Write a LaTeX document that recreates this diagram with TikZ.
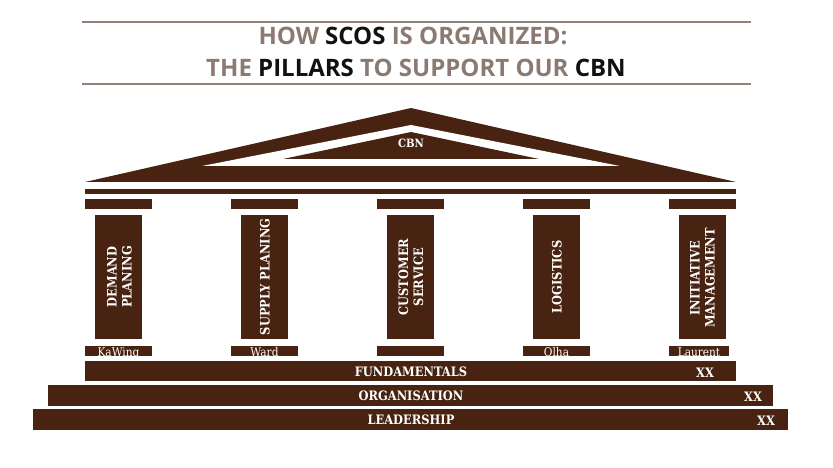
\documentclass[tikz,border=0pt]{standalone}
\usepackage{fontspec}
\setmainfont{Liberation Serif}
\newfontfamily\titlefont{Open Sans}
\newfontfamily\pfb[FakeStretch=0.88]{DejaVu Serif Bold}
\newfontfamily\pfr[FakeStretch=0.88]{DejaVu Serif}
\definecolor{brn}{RGB}{72,35,17}
\definecolor{ttl}{RGB}{139,122,114}
\definecolor{rulec}{RGB}{143,128,120}
\definecolor{blk}{RGB}{17,17,17}
\tikzset{
  titletext/.style={anchor=base, inner sep=0pt, text=ttl, font=\titlefont\bfseries\fontsize{24}{28}\selectfont},
  pilltext/.style={rotate=90, inner sep=0pt, align=center, text=white, font=\pfb\fontsize{13}{15}\selectfont},
  bartext/.style={anchor=base, inner sep=0pt, text=white, font=\pfb\fontsize{13}{16}\selectfont},
  platetext/.style={anchor=base, inner sep=0pt, text=white, font=\pfr\fontsize{12}{14}\selectfont},
  roofpart/.style={fill=brn},
}
\begin{document}
\begin{tikzpicture}[x=1pt,y=-1pt]
\useasboundingbox (0,0) rectangle (833,468);
% title rules
\draw[rulec, line width=2pt] (82,22) -- (751,22);
\draw[rulec, line width=2pt] (82,84) -- (751,84);
\node[titletext] (t1) at (413,45) {HOW \textcolor{blk}{SCOS} IS ORGANIZED:};
\node[titletext] (t2) at (416,77) {THE \textcolor{blk}{PILLARS} TO SUPPORT OUR \textcolor{blk}{CBN}};
% roof
\fill[roofpart] (85,182) -- (411,108) -- (736,182) -- cycle;
\fill[white] (202,166) -- (411,125) -- (620,166) -- cycle;
\fill[roofpart] (283,159) -- (411,132) -- (539,159) -- cycle;
\node[bartext, font=\pfb\fontsize{11.5}{14}\selectfont] (cbn) at (411,147.5) {CBN};
% beam
\fill[brn] (85,189) rectangle (736,193.5);
% capitals, shafts, plates
\foreach \i in {0,...,4}{
  \pgfmathsetmacro{\xa}{85+146*\i}
  \fill[brn] (\xa,199) rectangle ({\xa+67},209);
  \fill[brn] ({\xa+10},215) rectangle ({\xa+57},339);
}
\foreach \i in {0,...,3}{
  \pgfmathsetmacro{\xa}{85+146*\i}
  \fill[brn] (\xa,346) rectangle ({\xa+67},356);
}
\fill[brn] (669,346) rectangle (729,356);
\node[pilltext] (p1) at (119.5,277) {DEMAND\\PLANING};
\node[pilltext] (p2) at (265,277) {SUPPLY PLANING};
\node[pilltext] (p3) at (411,277) {CUSTOMER\\SERVICE};
\node[pilltext] (p4) at (557,277) {LOGISTICS};
\node[pilltext] (p5) at (702.5,278) {INITIATIVE\\MANAGEMENT};
\node[platetext] (n1) at (118.5,356) {KaWing};
\node[platetext] (n2) at (264.5,356) {Ward};
\node[platetext] (n4) at (556.5,356) {Olha};
\node[platetext] (n5) at (699,356) {Laurent};
% steps
\fill[brn] (85,361) rectangle (736,381);
\fill[brn] (48,384.5) rectangle (773,405.5);
\fill[brn] (33,409) rectangle (788,429.5);
\node[bartext] (f) at (411,376.5) {FUNDAMENTALS};
\node[bartext] (o) at (411,400.5) {ORGANISATION};
\node[bartext] (l) at (411,424.5) {LEADERSHIP};
\node[bartext] (fx) at (705,377) {XX};
\node[bartext] (ox) at (753,401.5) {XX};
\node[bartext] (lx) at (766,425.5) {XX};
\end{tikzpicture}
\end{document}
